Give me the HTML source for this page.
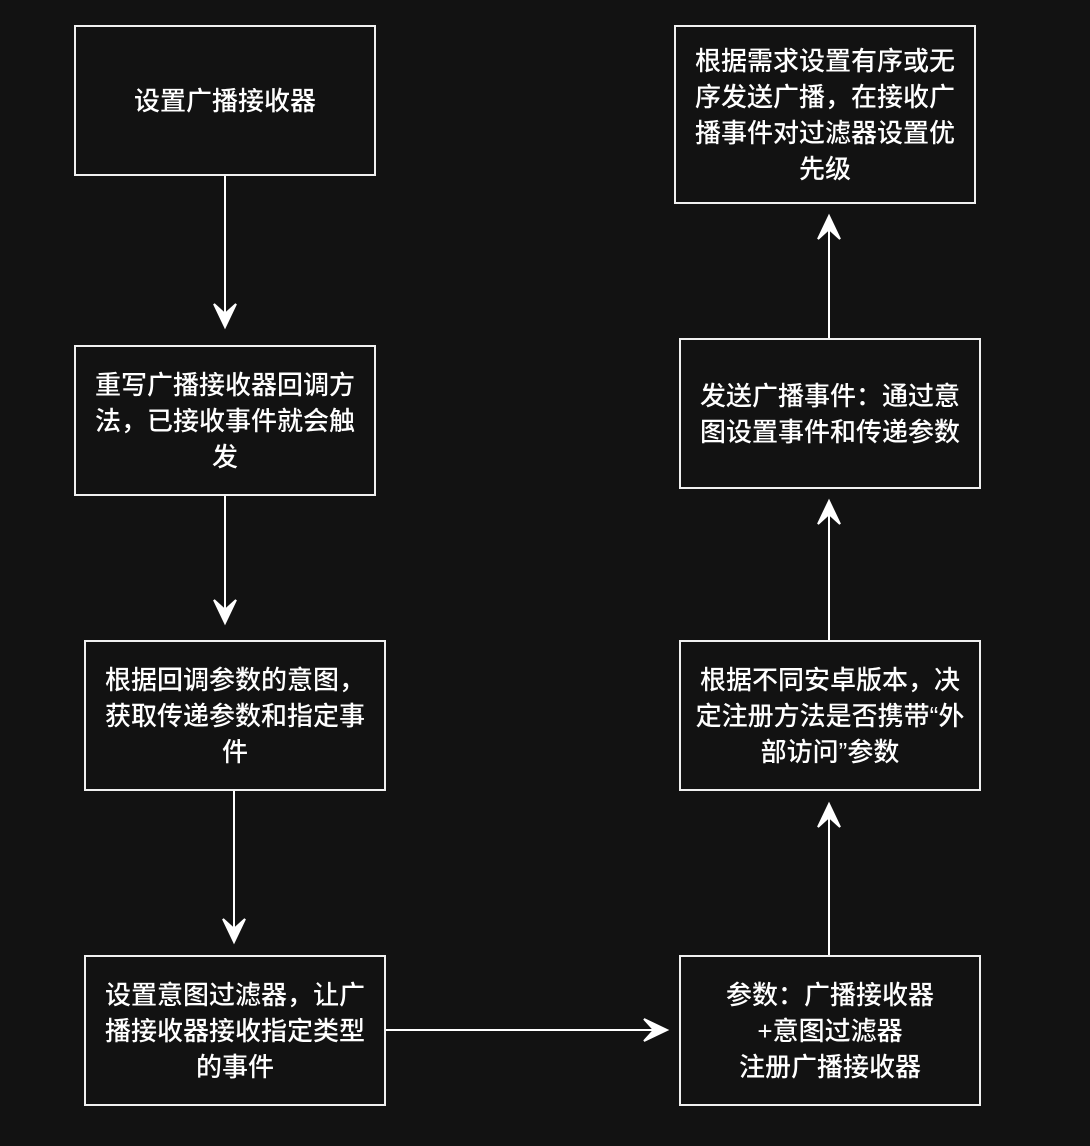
<!DOCTYPE html>
<html><head><meta charset="utf-8"><style>
body{margin:0;background:#121212;}
.b{position:absolute;border:2px solid #f0f0f0;box-sizing:border-box;display:flex;align-items:center;justify-content:center;text-align:center;color:#fff;font-family:"Liberation Sans","Noto Sans CJK SC",sans-serif;font-size:26px;font-weight:500;line-height:36px;padding:0 8px;}
</style></head><body>
<div style="position:relative;width:1090px;height:1146px;overflow:hidden;background:#121212">
<svg width="1090" height="1146" style="position:absolute;left:0;top:0">
<g stroke="#fff" stroke-width="2" fill="#fff">
<line x1="225" y1="175" x2="225" y2="316"/><path d="M225 327 L214 304 L225 314 L236 304 Z"/>
<line x1="225" y1="495" x2="225" y2="612"/><path d="M225 623 L214 600 L225 610 L236 600 Z"/>
<line x1="234" y1="790" x2="234" y2="931"/><path d="M234 942 L223 919 L234 929 L245 919 Z"/>
<line x1="385" y1="1030" x2="656" y2="1030"/><path d="M667 1030 L644 1019 L654 1030 L644 1041 Z"/>
<line x1="829" y1="955" x2="829" y2="815"/><path d="M829 804 L818 827 L829 817 L840 827 Z"/>
<line x1="829" y1="640" x2="829" y2="512"/><path d="M829 501 L818 524 L829 514 L840 524 Z"/>
<line x1="829" y1="338" x2="829" y2="227"/><path d="M829 216 L818 239 L829 229 L840 239 Z"/>
</g></svg>
<div class="b" style="left:74px;top:25px;width:302px;height:151px">设置广播接收器</div>
<div class="b" style="left:74px;top:345px;width:302px;height:151px">重写广播接收器回调方法，已接收事件就会触发</div>
<div class="b" style="left:84px;top:640px;width:302px;height:151px">根据回调参数的意图，获取传递参数和指定事件</div>
<div class="b" style="left:84px;top:955px;width:302px;height:151px">设置意图过滤器，让广播接收器接收指定类型的事件</div>
<div class="b" style="left:679px;top:955px;width:302px;height:151px">参数：广播接收器<br>+意图过滤器<br>注册广播接收器</div>
<div class="b" style="left:679px;top:640px;width:302px;height:151px">根据不同安卓版本，决定注册方法是否携带“外部访问”参数</div>
<div class="b" style="left:679px;top:338px;width:302px;height:151px">发送广播事件：通过意图设置事件和传递参数</div>
<div class="b" style="left:674px;top:25px;width:302px;height:179px">根据需求设置有序或无序发送广播，在接收广播事件对过滤器设置优先级</div>
</div>
</body></html>
